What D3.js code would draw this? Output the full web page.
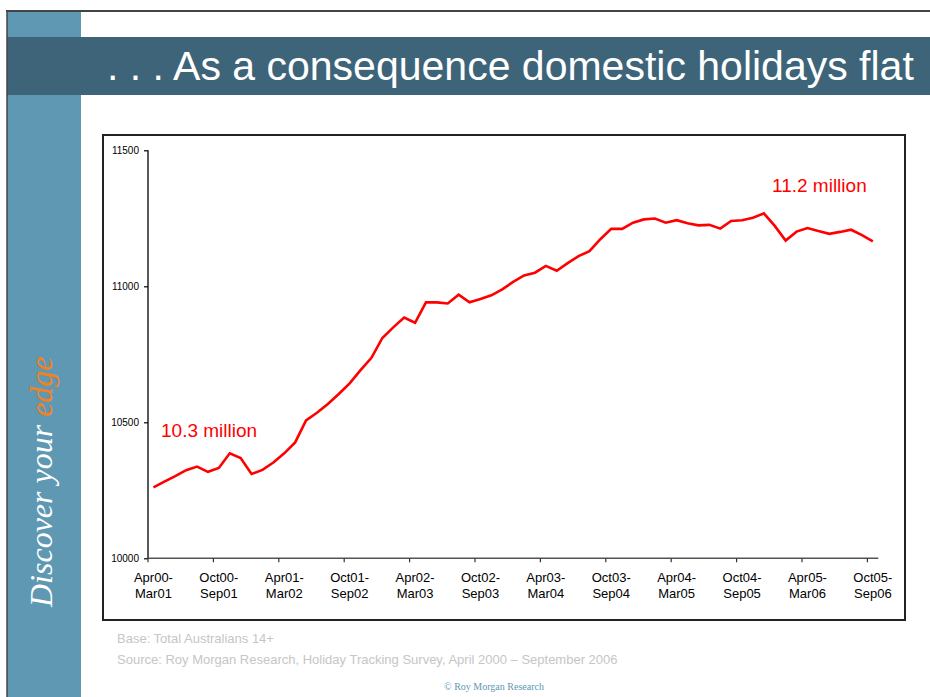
<!DOCTYPE html>
<html>
<head>
<meta charset="utf-8">
<script src="https://cdn.jsdelivr.net/npm/d3@7"></script>
<style>
  html, body { margin: 0; padding: 0; background: #fff; }
  svg { display: block; }
</style>
</head>
<body>
<script>
// Rolling 12-month periods (monthly steps)
const categories = [
  "Apr00-Mar01","May00-Apr01","Jun00-May01","Jul00-Jun01","Aug00-Jul01","Sep00-Aug01",
  "Oct00-Sep01","Nov00-Oct01","Dec00-Nov01","Jan01-Dec01","Feb01-Jan02","Mar01-Feb02",
  "Apr01-Mar02","May01-Apr02","Jun01-May02","Jul01-Jun02","Aug01-Jul02","Sep01-Aug02",
  "Oct01-Sep02","Nov01-Oct02","Dec01-Nov02","Jan02-Dec02","Feb02-Jan03","Mar02-Feb03",
  "Apr02-Mar03","May02-Apr03","Jun02-May03","Jul02-Jun03","Aug02-Jul03","Sep02-Aug03",
  "Oct02-Sep03","Nov02-Oct03","Dec02-Nov03","Jan03-Dec03","Feb03-Jan04","Mar03-Feb04",
  "Apr03-Mar04","May03-Apr04","Jun03-May04","Jul03-Jun04","Aug03-Jul04","Sep03-Aug04",
  "Oct03-Sep04","Nov03-Oct04","Dec03-Nov04","Jan04-Dec04","Feb04-Jan05","Mar04-Feb05",
  "Apr04-Mar05","May04-Apr05","Jun04-May05","Jul04-Jun05","Aug04-Jul05","Sep04-Aug05",
  "Oct04-Sep05","Nov04-Oct05","Dec04-Nov05","Jan05-Dec05","Feb05-Jan06","Mar05-Feb06",
  "Apr05-Mar06","May05-Apr06","Jun05-May06","Jul05-Jun06","Aug05-Jul06","Sep05-Aug06",
  "Oct05-Sep06"
];

// Australians 14+ taking a domestic holiday (thousands)
const holidayers = [
  10261, 10282, 10302, 10324, 10337, 10318,
  10332, 10386, 10369, 10310, 10325, 10352,
  10386, 10426, 10507, 10535, 10567, 10604,
  10643, 10692, 10737, 10810, 10849, 10885,
  10866, 10941, 10941, 10937, 10969, 10941,
  10953, 10967, 10989, 11016, 11040, 11050,
  11075, 11057, 11085, 11111, 11129, 11173,
  11211, 11211, 11234, 11246, 11249, 11234,
  11243, 11232, 11224, 11226, 11212, 11240,
  11243, 11252, 11268, 11222, 11168, 11201,
  11214, 11203, 11193, 11200, 11208, 11188,
  11165
];

const xTickLabels = [
  "Apr00-Mar01","Oct00-Sep01","Apr01-Mar02","Oct01-Sep02","Apr02-Mar03","Oct02-Sep03",
  "Apr03-Mar04","Oct03-Sep04","Apr04-Mar05","Oct04-Sep05","Apr05-Mar06","Oct05-Sep06"
];
const yTicks = [10000, 10500, 11000, 11500];

const startNote = "10.3 million";
const endNote = "11.2 million";
const titleText = ". . . As a consequence domestic holidays flat";
const baseNote = "Base: Total Australians 14+";
const sourceNote = "Source: Roy Morgan Research, Holiday Tracking Survey, April 2000 \u2013 September 2006";
const copyright = "\u00A9 Roy Morgan Research";

const W = 930, H = 697;
const svg = d3.select("body").append("svg").attr("width", W).attr("height", H);
const sans = "'Liberation Sans', Arial, sans-serif";
const serif = "'Liberation Serif', 'Times New Roman', serif";

// ---- slide frame ----
svg.append("rect").attr("x", 7).attr("y", 11).attr("width", 74).attr("height", H - 11).attr("fill", "#5e98b3");
svg.append("rect").attr("x", 7).attr("y", 37).attr("width", W - 7).attr("height", 58).attr("fill", "#3d6479");
svg.append("line").attr("x1", 6).attr("x2", W).attr("y1", 11).attr("y2", 11).attr("stroke", "#444").attr("stroke-width", 2);
svg.append("line").attr("x1", 7).attr("x2", 7).attr("y1", 11).attr("y2", H).attr("stroke", "#444").attr("stroke-width", 1.5);

svg.append("text")
  .attr("x", 107).attr("y", 80)
  .attr("font-family", sans)
  .attr("font-size", 41)
  .attr("fill", "#fff")
  .text(titleText);

// vertical tagline
const tag = svg.append("text")
  .attr("transform", "translate(52,607) rotate(-90)")
  .attr("font-family", serif)
  .attr("font-style", "italic")
  .attr("font-size", 32)
  .attr("fill", "#fff");
tag.append("tspan").text("Discover your ");
tag.append("tspan").attr("fill", "#f7801e").text("edge");

// ---- chart box ----
svg.append("rect").attr("x", 103).attr("y", 135).attr("width", 802).attr("height", 485)
  .attr("fill", "#fff").attr("stroke", "#222").attr("stroke-width", 2);

const plot = { left: 148, right: 878.3, top: 150.3, bottom: 558.3 };

const x = d3.scaleBand().domain(categories).range([plot.left, plot.right]).paddingInner(0).paddingOuter(0);
const y = d3.scaleLinear().domain([10000, 11500]).range([plot.bottom, plot.top]);
const bw = x.bandwidth();

// y axis
const yAxis = svg.append("g")
  .attr("transform", `translate(${plot.left},0)`)
  .call(d3.axisLeft(y).tickValues(yTicks).tickSize(4).tickPadding(5).tickFormat(d3.format("d")));
yAxis.select(".domain").attr("stroke", "#000").attr("stroke-width", 1.3).attr("d", `M0,${plot.top}V${plot.bottom}`);
yAxis.selectAll(".tick line").attr("stroke", "#000").attr("stroke-width", 1.2);
yAxis.selectAll(".tick text")
  .attr("font-family", sans)
  .attr("font-size", 10).attr("fill", "#000");

// x axis: ticks on period boundaries, labels on period centres
const xAxis = svg.append("g")
  .attr("transform", `translate(0,${plot.bottom})`)
  .call(d3.axisBottom(x).tickValues(xTickLabels).tickSize(4).tickPadding(8));
xAxis.select(".domain").attr("stroke", "#555").attr("stroke-width", 1.5).attr("d", `M${plot.left},0H${plot.right}`);
xAxis.selectAll(".tick line").attr("x1", -bw / 2).attr("x2", -bw / 2).attr("stroke", "#333").attr("stroke-width", 1.2);
xAxis.selectAll(".tick text").each(function(d) {
  const t = d3.select(this).text(null)
    .attr("font-family", sans)
    .attr("font-size", 13).attr("fill", "#000").attr("y", 0).attr("dy", null);
  const parts = d.split("-");
  t.append("tspan").attr("x", 0).attr("y", 24).text(parts[0] + "-");
  t.append("tspan").attr("x", 0).attr("y", 40).text(parts[1]);
});

// series line
const line = d3.line()
  .x((d, i) => x(categories[i]) + bw / 2)
  .y(d => y(d));
svg.append("path")
  .datum(holidayers)
  .attr("d", line)
  .attr("fill", "none")
  .attr("stroke", "#ff0000")
  .attr("stroke-width", 2.6)
  .attr("stroke-linejoin", "miter");

// value notes
svg.append("text").attr("x", 161).attr("y", 437)
  .attr("font-family", sans).attr("font-size", 19).attr("fill", "#ff0000").text(startNote);
svg.append("text").attr("x", 772).attr("y", 192)
  .attr("font-family", sans).attr("font-size", 19).attr("fill", "#ff0000").text(endNote);

// footer
svg.append("text").attr("x", 117).attr("y", 643)
  .attr("font-family", sans).attr("font-size", 13).attr("fill", "#c6c6c6").text(baseNote);
svg.append("text").attr("x", 117).attr("y", 664)
  .attr("font-family", sans).attr("font-size", 13).attr("fill", "#c6c6c6").text(sourceNote);
svg.append("text").attr("x", 494).attr("y", 690).attr("text-anchor", "middle")
  .attr("font-family", serif)
  .attr("font-size", 10).attr("fill", "#5e98b3").text(copyright);
</script>
</body>
</html>
